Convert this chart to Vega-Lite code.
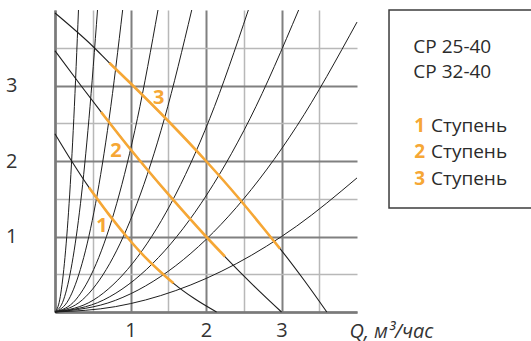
{
  "$schema": "https://vega.github.io/schema/vega-lite/v6.json",
  "width": 302,
  "height": 302,
  "autosize": {"type": "none"},
  "padding": {"left": 55, "top": 10, "right": 174, "bottom": 29},
  "background": "white",
  "config": {"view": {"stroke": null}},
  "encoding": {
    "x": {
      "field": "Q", "type": "quantitative",
      "scale": {"domain": [0, 4], "nice": false, "zero": false},
      "axis": {
        "values": [0, 0.5, 1, 1.5, 2, 2.5, 3, 3.5],
        "labelExpr": "(datum.value % 1 === 0 && datum.value > 0) ? format(datum.value, 'd') : ''",
        "ticks": false, "tickSize": 0,
        "labelPadding": 8, "labelFont": "Open Sans", "labelFontSize": 20, "labelColor": "#333333",
        "labelBaseline": "top", "labelFlush": false, "labelOverlap": false,
        "domainColor": "#7a7a7a", "domainWidth": 2.5,
        "grid": true,
        "gridColor": {"condition": {"test": "datum.value % 1 === 0", "value": "#808080"}, "value": "#b8b8b8"},
        "gridWidth": {"condition": {"test": "datum.value % 1 === 0", "value": 2}, "value": 1.5},
        "title": "Q, м³/час",
        "titleFont": "Open Sans", "titleFontStyle": "italic", "titleFontWeight": "normal",
        "titleFontSize": 20, "titleColor": "#333333",
        "titleX": 294, "titleY": 25, "titleAlign": "left", "titleBaseline": "alphabetic", "titleAnchor": "start"
      }
    },
    "y": {
      "field": "H", "type": "quantitative",
      "scale": {"domain": [0, 4], "nice": false, "zero": false},
      "axis": {
        "values": [0, 0.5, 1, 1.5, 2, 2.5, 3, 3.5],
        "labelExpr": "(datum.value % 1 === 0 && datum.value > 0) ? format(datum.value, 'd') : ''",
        "ticks": false, "tickSize": 0,
        "labelPadding": 38, "labelFont": "Open Sans", "labelFontSize": 20, "labelColor": "#333333",
        "labelBaseline": "middle", "labelFlush": false, "labelOverlap": false,
        "domainColor": "#7a7a7a", "domainWidth": 2.5,
        "grid": true,
        "gridColor": {"condition": {"test": "datum.value % 1 === 0", "value": "#808080"}, "value": "#b8b8b8"},
        "gridWidth": {"condition": {"test": "datum.value % 1 === 0", "value": 2}, "value": 1.5},
        "title": null
      }
    }
  },
  "layer": [
    {
      "data": {"values": [
        {"curve": "a", "Q": 0, "H": 0}, {"curve": "a", "Q": 0.062, "H": 0.16}, {"curve": "a", "Q": 0.124, "H": 0.64}, {"curve": "a", "Q": 0.187, "H": 1.44}, {"curve": "a", "Q": 0.249, "H": 2.56}, {"curve": "a", "Q": 0.311, "H": 4.0},
        {"curve": "b", "Q": 0, "H": 0}, {"curve": "b", "Q": 0.113, "H": 0.16}, {"curve": "b", "Q": 0.225, "H": 0.64}, {"curve": "b", "Q": 0.338, "H": 1.44}, {"curve": "b", "Q": 0.45, "H": 2.56}, {"curve": "b", "Q": 0.563, "H": 4.0},
        {"curve": "c", "Q": 0, "H": 0}, {"curve": "c", "Q": 0.179, "H": 0.16}, {"curve": "c", "Q": 0.358, "H": 0.64}, {"curve": "c", "Q": 0.538, "H": 1.44}, {"curve": "c", "Q": 0.717, "H": 2.56}, {"curve": "c", "Q": 0.896, "H": 4.0},
        {"curve": "d", "Q": 0, "H": 0}, {"curve": "d", "Q": 0.273, "H": 0.16}, {"curve": "d", "Q": 0.546, "H": 0.64}, {"curve": "d", "Q": 0.818, "H": 1.44}, {"curve": "d", "Q": 1.091, "H": 2.56}, {"curve": "d", "Q": 1.364, "H": 4.0},
        {"curve": "e", "Q": 0, "H": 0}, {"curve": "e", "Q": 0.362, "H": 0.16}, {"curve": "e", "Q": 0.724, "H": 0.64}, {"curve": "e", "Q": 1.087, "H": 1.44}, {"curve": "e", "Q": 1.449, "H": 2.56}, {"curve": "e", "Q": 1.811, "H": 4.0},
        {"curve": "f", "Q": 0, "H": 0}, {"curve": "f", "Q": 0.512, "H": 0.16}, {"curve": "f", "Q": 1.024, "H": 0.64}, {"curve": "f", "Q": 1.537, "H": 1.44}, {"curve": "f", "Q": 2.049, "H": 2.56}, {"curve": "f", "Q": 2.561, "H": 4.0},
        {"curve": "g", "Q": 0, "H": 0}, {"curve": "g", "Q": 0.645, "H": 0.16}, {"curve": "g", "Q": 1.291, "H": 0.64}, {"curve": "g", "Q": 1.936, "H": 1.44}, {"curve": "g", "Q": 2.582, "H": 2.56}, {"curve": "g", "Q": 3.227, "H": 4.0},
        {"curve": "h", "Q": 0, "H": 0}, {"curve": "h", "Q": 0.8, "H": 0.154}, {"curve": "h", "Q": 1.6, "H": 0.614}, {"curve": "h", "Q": 2.4, "H": 1.382}, {"curve": "h", "Q": 3.2, "H": 2.458}, {"curve": "h", "Q": 4.0, "H": 3.84},
        {"curve": "i", "Q": 0, "H": 0}, {"curve": "i", "Q": 0.8, "H": 0.071}, {"curve": "i", "Q": 1.6, "H": 0.284}, {"curve": "i", "Q": 2.4, "H": 0.639}, {"curve": "i", "Q": 3.2, "H": 1.137}, {"curve": "i", "Q": 4.0, "H": 1.776}
      ]},
      "mark": {"type": "line", "stroke": "#1e1e1e", "strokeWidth": 1, "interpolate": "monotone"},
      "encoding": {"detail": {"field": "curve"}}
    },
    {
      "data": {"values": [
        {"curve": "p1", "Q": 0, "H": 2.36}, {"curve": "p1", "Q": 0.22, "H": 2.0}, {"curve": "p1", "Q": 0.45, "H": 1.65}, {"curve": "p1", "Q": 0.7, "H": 1.31}, {"curve": "p1", "Q": 0.94, "H": 1.01}, {"curve": "p1", "Q": 1.2, "H": 0.72}, {"curve": "p1", "Q": 1.41, "H": 0.52}, {"curve": "p1", "Q": 1.57, "H": 0.38}, {"curve": "p1", "Q": 1.85, "H": 0.175}, {"curve": "p1", "Q": 2.14, "H": 0},
        {"curve": "p2", "Q": 0, "H": 3.46}, {"curve": "p2", "Q": 0.35, "H": 2.99}, {"curve": "p2", "Q": 0.61, "H": 2.65}, {"curve": "p2", "Q": 1.0, "H": 2.155}, {"curve": "p2", "Q": 1.5, "H": 1.56}, {"curve": "p2", "Q": 2.0, "H": 1.0}, {"curve": "p2", "Q": 2.25, "H": 0.735}, {"curve": "p2", "Q": 2.6, "H": 0.38}, {"curve": "p2", "Q": 3.0, "H": 0},
        {"curve": "p3", "Q": 0, "H": 3.96}, {"curve": "p3", "Q": 0.5, "H": 3.52}, {"curve": "p3", "Q": 0.72, "H": 3.3}, {"curve": "p3", "Q": 1.0, "H": 3.03}, {"curve": "p3", "Q": 1.5, "H": 2.53}, {"curve": "p3", "Q": 2.0, "H": 2.0}, {"curve": "p3", "Q": 2.44, "H": 1.5}, {"curve": "p3", "Q": 2.85, "H": 1.0}, {"curve": "p3", "Q": 2.98, "H": 0.84}, {"curve": "p3", "Q": 3.3, "H": 0.42}, {"curve": "p3", "Q": 3.6, "H": 0}
      ]},
      "mark": {"type": "line", "stroke": "#1e1e1e", "strokeWidth": 1.1, "interpolate": "monotone"},
      "encoding": {"detail": {"field": "curve"}}
    },
    {
      "data": {"values": [
        {"curve": "o1", "Q": 0.45, "H": 1.65}, {"curve": "o1", "Q": 0.7, "H": 1.31}, {"curve": "o1", "Q": 0.94, "H": 1.01}, {"curve": "o1", "Q": 1.2, "H": 0.72}, {"curve": "o1", "Q": 1.41, "H": 0.52}, {"curve": "o1", "Q": 1.57, "H": 0.38},
        {"curve": "o2", "Q": 0.61, "H": 2.65}, {"curve": "o2", "Q": 1.0, "H": 2.155}, {"curve": "o2", "Q": 1.5, "H": 1.56}, {"curve": "o2", "Q": 2.0, "H": 1.0}, {"curve": "o2", "Q": 2.25, "H": 0.735},
        {"curve": "o3", "Q": 0.72, "H": 3.3}, {"curve": "o3", "Q": 1.0, "H": 3.03}, {"curve": "o3", "Q": 1.5, "H": 2.53}, {"curve": "o3", "Q": 2.0, "H": 2.0}, {"curve": "o3", "Q": 2.44, "H": 1.5}, {"curve": "o3", "Q": 2.85, "H": 1.0}, {"curve": "o3", "Q": 2.98, "H": 0.84}
      ]},
      "mark": {"type": "line", "stroke": "#F6A735", "strokeWidth": 2.6, "interpolate": "monotone"},
      "encoding": {"detail": {"field": "curve"}}
    },
    {
      "data": {"values": [
        {"label": "1", "Q": 0.623, "H": 1.064},
        {"label": "2", "Q": 0.808, "H": 2.057},
        {"label": "3", "Q": 1.373, "H": 2.755}
      ]},
      "mark": {"type": "text", "font": "Open Sans", "fontSize": 20, "fontWeight": "bold", "fill": "#F6A735", "align": "center", "baseline": "alphabetic"},
      "encoding": {"text": {"field": "label"}}
    },
    {
      "data": {"values": [{"Q": 4.424, "Q2": 6.6, "H": 4.0, "H2": 1.377}]},
      "mark": {"type": "rect", "fill": "transparent", "stroke": "#3c3c3c", "strokeWidth": 1.5},
      "encoding": {"x2": {"field": "Q2"}, "y2": {"field": "H2"}}
    },
    {
      "data": {"values": [
        {"label": "CP 25-40", "Q": 4.746, "H": 3.434},
        {"label": "CP 32-40", "Q": 4.746, "H": 3.095},
        {"label": "Ступень", "Q": 4.98, "H": 2.388},
        {"label": "Ступень", "Q": 4.98, "H": 2.036},
        {"label": "Ступень", "Q": 4.98, "H": 1.682}
      ]},
      "mark": {"type": "text", "font": "Open Sans", "fontSize": 19, "fill": "#2b2b2b", "align": "left", "baseline": "alphabetic"},
      "encoding": {"text": {"field": "label"}}
    },
    {
      "data": {"values": [
        {"label": "1", "Q": 4.759, "H": 2.388},
        {"label": "2", "Q": 4.759, "H": 2.036},
        {"label": "3", "Q": 4.759, "H": 1.682}
      ]},
      "mark": {"type": "text", "font": "Open Sans", "fontSize": 19, "fontWeight": "bold", "fill": "#F6A735", "align": "left", "baseline": "alphabetic"},
      "encoding": {"text": {"field": "label"}}
    }
  ]
}
